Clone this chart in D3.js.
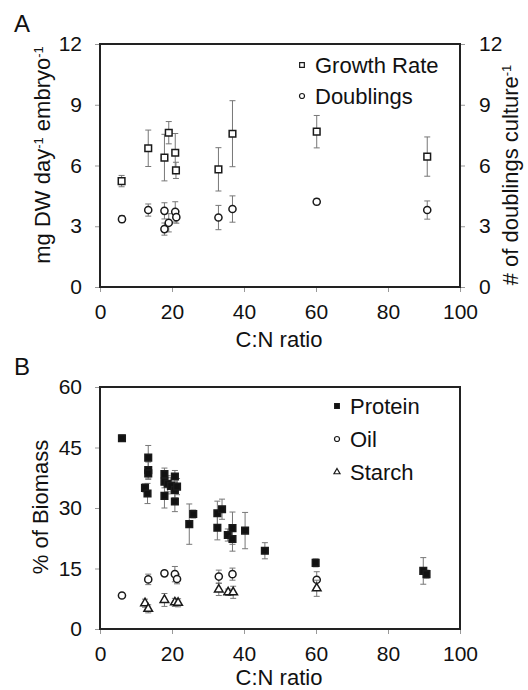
<!DOCTYPE html>
<html>
<head>
<meta charset="utf-8">
<script src="https://cdn.jsdelivr.net/npm/d3@7"></script>
<style>
  body { margin: 0; background: #fff; }
  svg { font-family: Arial, "Liberation Sans", sans-serif; }
</style>
</head>
<body>
<svg id="chart" width="528" height="690"></svg>
<script>
// panel A: growth rate and doublings vs C:N ratio
const growthCN = [6.0, 13.4, 17.9, 19.1, 20.9, 21.1, 32.9, 36.8, 60.2, 90.9];
const growthVal = [5.23, 6.85, 6.39, 7.62, 6.63, 5.76, 5.81, 7.57, 7.67, 6.44];
const growthErr = [0.28, 0.9, 1.15, 0.55, 0.95, 0.4, 1.07, 1.63, 0.8, 0.97];

const doublingsCN = [6.1, 13.4, 17.9, 17.9, 19.1, 20.9, 21.2, 32.9, 36.8, 60.2, 90.9];
const doublingsVal = [3.35, 3.8, 3.76, 2.86, 3.17, 3.71, 3.45, 3.43, 3.85, 4.21, 3.8];
const doublingsErr = [0.17, 0.3, 0.4, 0.3, 0.45, 0.5, 0.3, 0.6, 0.65, 0.15, 0.45];

// panel B: % of biomass
const proteinCN = [6.1, 13.4, 13.4, 13.4, 12.5, 13.2, 17.9, 17.9, 17.9, 18.8, 19.7, 20.8, 20.8, 20.8, 21.4, 24.8, 25.9, 32.6, 32.6, 33.9, 35.5, 36.8, 36.8, 40.3, 45.8, 59.9, 89.8, 90.7];
const proteinVal = [47.3, 42.5, 39.4, 38.6, 35.0, 33.6, 38.4, 36.5, 33.0, 36.0, 35.5, 37.8, 34.5, 31.6, 35.3, 26.0, 28.5, 28.7, 25.1, 29.7, 23.3, 25.0, 22.3, 24.4, 19.4, 16.4, 14.4, 13.6];
const proteinErr = [0.8, 3, 2, 1.5, 1, 2.5, 1.5, 1.5, 3, 2, 2, 1.5, 2, 2.5, 2, 5, 1, 3, 3, 2.5, 1.5, 4, 3, 4.5, 2, 1, 3.3, 1];

const oilCN = [6.1, 13.4, 17.9, 20.8, 21.4, 33.0, 36.8, 60.2];
const oilVal = [8.3, 12.3, 13.8, 13.6, 12.4, 13.0, 13.6, 12.2];
const oilErr = [0.5, 1.3, 0.6, 1.9, 1.2, 1.6, 1.5, 2.0];

const starchCN = [12.5, 13.4, 17.9, 20.8, 21.7, 33.0, 35.6, 37.0, 60.2];
const starchVal = [6.4, 5.0, 7.2, 6.6, 6.5, 9.8, 9.1, 9.1, 10.1];
const starchErr = [1.0, 1.0, 1.6, 1.0, 1.0, 1.5, 0.8, 1.5, 2.0];

const xTicks = [0, 20, 40, 60, 80, 100];
const yTicksA = [0, 3, 6, 9, 12];
const yTicksB = [0, 15, 30, 45, 60];

const tickFont = 21,
      labelFont = 22,
      capLen = 3;

const svg = d3.select("#chart");

var zip = function(xs, ys, es) {
  return xs.map(function(x, i) {
    return {x: x, y: ys[i], e: es[i]};
  });
}

var styleAxis = function(a) {
  a.select(".domain").remove();
  a.selectAll(".tick line").attr("stroke", "#999");
  a.selectAll(".tick text")
    .attr("fill", "#111")
    .style("font-size", tickFont + "px")
    .style("font-family", "Arial, 'Liberation Sans', sans-serif");
}

var drawPanel = function(opts) {
  const x = d3.scaleLinear().domain([0, 100]).range([100, 460]);
  const y = d3.scaleLinear().domain(opts.yDomain).range([opts.bottom, opts.top]);

  const g = svg.append("g");

  g.append("g")
    .attr("transform", "translate(0," + opts.bottom + ")")
    .call(d3.axisBottom(x).tickValues(xTicks).tickSize(5).tickPadding(12))
    .call(styleAxis);

  g.append("g")
    .attr("transform", "translate(100,0)")
    .call(d3.axisLeft(y).tickValues(opts.yTicks).tickSize(5).tickPadding(13))
    .call(styleAxis);

  if (opts.rightAxis) {
    g.append("g")
      .attr("transform", "translate(460,0)")
      .call(d3.axisRight(y).tickValues(opts.yTicks).tickSize(5).tickPadding(14))
      .call(styleAxis);
  }

  g.append("rect")
    .attr("x", 100)
    .attr("y", opts.top)
    .attr("width", 360)
    .attr("height", opts.bottom - opts.top)
    .attr("fill", "none")
    .attr("stroke", "#222")
    .attr("stroke-width", 2);

  opts.series.forEach(function(s) {
    const sg = g.append("g");
    const pts = zip(s.cn, s.val, s.err);

    const bars = sg.selectAll(".err")
      .data(pts)
      .join("g")
        .attr("class", "err")
        .attr("stroke", "#777")
        .attr("stroke-width", 1);
    bars.append("line")
      .attr("x1", function(d){ return x(d.x); })
      .attr("x2", function(d){ return x(d.x); })
      .attr("y1", function(d){ return y(d.y - d.e); })
      .attr("y2", function(d){ return y(d.y + d.e); });
    [-1, 1].forEach(function(sign) {
      bars.append("line")
        .attr("x1", function(d){ return x(d.x) - capLen; })
        .attr("x2", function(d){ return x(d.x) + capLen; })
        .attr("y1", function(d){ return y(d.y + sign * d.e); })
        .attr("y2", function(d){ return y(d.y + sign * d.e); });
    });

    sg.selectAll(".mark")
      .data(pts)
      .join("path")
        .attr("class", "mark")
        .attr("transform", function(d){
          return "translate(" + x(d.x) + "," + y(d.y) + ")";
        })
        .attr("d", d3.symbol().type(s.symbol).size(s.size))
        .attr("fill", s.fill)
        .attr("stroke", "#1a1a1a")
        .attr("stroke-width", 1.5);

    // legend entry
    g.append("path")
      .attr("transform", "translate(" + s.legendX + "," + s.legendY + ")")
      .attr("d", d3.symbol().type(s.symbol).size(s.size * 0.5))
      .attr("fill", s.fill)
      .attr("stroke", "#1a1a1a")
      .attr("stroke-width", 1.2);
    g.append("text")
      .attr("x", s.legendX + 13)
      .attr("y", s.legendY + 7.5)
      .style("font-size", labelFont + "px")
      .attr("fill", "#111")
      .text(s.name);
  });

  g.append("text")
    .attr("x", 279)
    .attr("y", opts.bottom + opts.titleOffset)
    .attr("text-anchor", "middle")
    .style("font-size", labelFont + "px")
    .attr("fill", "#111")
    .text("C:N ratio");

  g.append("text")
    .attr("x", 14)
    .attr("y", opts.top - 12)
    .style("font-size", "24px")
    .attr("fill", "#111")
    .text(opts.letter);

  return {x: x, y: y, g: g};
}

// rotated title with superscript pieces: parts = [[text, isSup], ...]
var rotatedTitle = function(cx, cy, parts) {
  const t = svg.append("text")
    .attr("transform", "translate(" + cx + "," + cy + ") rotate(-90)")
    .attr("text-anchor", "middle")
    .attr("dy", "0.35em")
    .style("font-size", labelFont + "px")
    .attr("fill", "#111");
  parts.forEach(function(p) {
    t.append("tspan")
      .attr("baseline-shift", p[1] ? "super" : null)
      .style("font-size", p[1] ? "13px" : null)
      .text(p[0]);
  });
}

drawPanel({
  letter: "A",
  top: 44,
  bottom: 287,
  titleOffset: 60,
  yDomain: [0, 12],
  yTicks: yTicksA,
  rightAxis: true,
  series: [
    {name: "Growth Rate", cn: growthCN, val: growthVal, err: growthErr,
     symbol: d3.symbolSquare, size: 44, fill: "#fff", legendX: 302, legendY: 65},
    {name: "Doublings", cn: doublingsCN, val: doublingsVal, err: doublingsErr,
     symbol: d3.symbolCircle, size: 40, fill: "#fff", legendX: 302, legendY: 96}
  ]
});

drawPanel({
  letter: "B",
  top: 387,
  bottom: 629,
  titleOffset: 56,
  yDomain: [0, 60],
  yTicks: yTicksB,
  rightAxis: false,
  series: [
    {name: "Protein", cn: proteinCN, val: proteinVal, err: proteinErr,
     symbol: d3.symbolSquare, size: 44, fill: "#111", legendX: 337, legendY: 406},
    {name: "Oil", cn: oilCN, val: oilVal, err: oilErr,
     symbol: d3.symbolCircle, size: 40, fill: "#fff", legendX: 337, legendY: 439},
    {name: "Starch", cn: starchCN, val: starchVal, err: starchErr,
     symbol: d3.symbolTriangle, size: 32, fill: "#fff", legendX: 337, legendY: 472}
  ]
});

rotatedTitle(42, 155, [["mg DW day", false], ["-1", true], [" embryo", false], ["-1", true]]);
rotatedTitle(510, 175, [["# of doublings culture", false], ["-1", true]]);
rotatedTitle(40, 507, [["% of Biomass", false]]);
</script>
</body>
</html>
